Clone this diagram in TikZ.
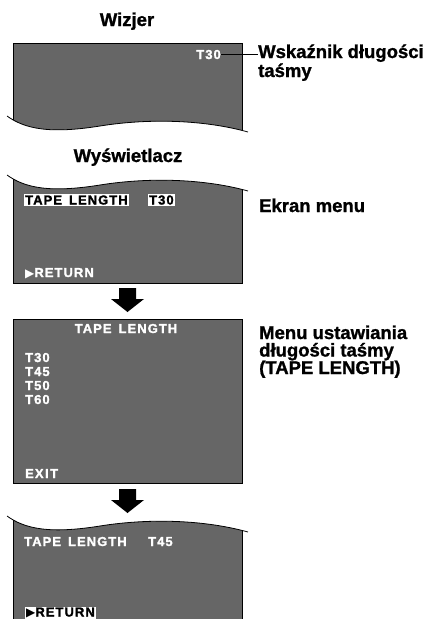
\documentclass[tikz,border=0pt]{standalone}
\usepackage{fontspec}
\setmainfont{Liberation Sans}[BoldFeatures={FakeBold=1.2}]
\newfontfamily\menufont{Liberation Sans Bold}[LetterSpace=8, FakeBold=1.6]
\newfontfamily\symfont{DejaVu Sans}
\definecolor{panelgray}{RGB}{102,102,102}
\tikzset{
  lbl/.style={font=\fontsize{18.5}{19}\selectfont\bfseries, inner sep=0pt, anchor=base west},
  ttl/.style={font=\fontsize{18.5}{19}\selectfont\bfseries, inner sep=0pt, anchor=base},
  menu/.style={font=\menufont\fontsize{13}{14}\selectfont, text=white, inner sep=0pt, anchor=base west},
  hl/.style={menu, text=black, fill=white, inner xsep=1pt, inner ysep=1pt},
  edge/.style={line width=0.8pt, draw=black},
  lead/.style={line width=1.1pt, draw=black},
  bigarrow/.style={fill=black}
}
\newcommand\tri{{\symfont\fontsize{12}{12}\selectfont ▶}}
\newcommand\tapelen{TAPE\hspace{7pt}LENGTH}
\begin{document}
\begin{tikzpicture}[x=1pt,y=-1pt]
\useasboundingbox (0,0) rectangle (425,619);

% ---------- Panel 1 (Wizjer) ----------
\begin{scope}
  \clip (7,30) -- (248,30) -- (248,132) .. controls (205,120) and (150,118) .. (100,126) .. controls (50,134) and (25,129) .. (7,116) -- cycle;
  \fill[panelgray] (13,43) rectangle (242,140);
  \draw[edge] (13,140) -- (13,43) -- (242,43) -- (242,140);
\end{scope}
\draw[edge] (7,116) .. controls (25,129) and (50,134) .. (100,126) .. controls (150,118) and (205,120) .. (248,132);

% ---------- Panel 2 (Ekran menu) ----------
\begin{scope}[shift={(0,59)}]
  \begin{scope}
    \clip (7,116) .. controls (25,129) and (50,134) .. (100,126) .. controls (150,118) and (205,120) .. (248,132) -- (248,240) -- (7,240) -- cycle;
    \fill[panelgray] (13,110) rectangle (242,224);
    \draw[edge] (13,110) -- (13,224) -- (242,224) -- (242,110);
  \end{scope}
  \draw[edge] (7,116) .. controls (25,129) and (50,134) .. (100,126) .. controls (150,118) and (205,120) .. (248,132);
\end{scope}

% ---------- Panel 3 (TAPE LENGTH menu) ----------
\fill[panelgray] (13,319) rectangle (242,483);
\draw[edge] (13,319) rectangle (242,483);

% ---------- Panel 4 ----------
\begin{scope}[shift={(0,400)}]
  \begin{scope}
    \clip (7,116) .. controls (25,129) and (50,134) .. (100,126) .. controls (150,118) and (205,120) .. (248,132) -- (248,240) -- (7,240) -- cycle;
    \fill[panelgray] (13,110) rectangle (242,240);
    \draw[edge] (13,110) -- (13,240);
    \draw[edge] (242,110) -- (242,240);
  \end{scope}
  \draw[edge] (7,116) .. controls (25,129) and (50,134) .. (100,126) .. controls (150,118) and (205,120) .. (248,132);
\end{scope}

% ---------- Arrows ----------
\fill[bigarrow] (119,288) -- (136,288) -- (136,299) -- (144,299) -- (127.5,312) -- (111,299) -- (119,299) -- cycle;
\fill[bigarrow] (119,489) -- (136,489) -- (136,500) -- (144,500) -- (127.5,513) -- (111,500) -- (119,500) -- cycle;

% ---------- Titles ----------
\node[ttl] (wizjer) at (127,26) {Wizjer};
\node[ttl] (wysw) at (128,162) {Wyświetlacz};

% ---------- Panel texts ----------
\node[menu, anchor=base east] (t30a) at (221,59) {T30};

\node[hl] (tl2) at (24,204.5) {\tapelen};
\node[hl] (t30b) at (148,204.5) {T30};
\node[menu] (ret2) at (25,277) {\tri RETURN};

\node[menu, anchor=base] (tl3) at (126,333) {\tapelen};
\node[menu] (o30) at (25,362) {T30};
\node[menu] (o45) at (25,376) {T45};
\node[menu] (o50) at (25,390) {T50};
\node[menu] (o60) at (25,404) {T60};
\node[menu] (exit) at (25,478) {EX\kern1.5pt I\kern1.5pt T};

\node[menu] (tl4) at (24,546) {\tapelen};
\node[menu] (t45) at (148,546) {T45};
\node[hl] (ret4) at (25,616.5) {\tri RETURN};

% ---------- Labels ----------
\node[lbl] (wsk1) at (258,58) {Wskaźnik długości};
\node[lbl] (wsk2) at (258,77) {taśmy};
\node[lbl] (ekran) at (259,212) {Ekran menu};
\node[lbl] (mu1) at (259,339) {Menu ustawiania};
\node[lbl] (mu2) at (259,356.5) {długości taśmy};
\node[lbl] (mu3) at (259,374) {(TAPE LENGTH)};

\draw[lead] (t30a.east) -- (t30a.east -| wsk1.west);
\end{tikzpicture}
\end{document}
